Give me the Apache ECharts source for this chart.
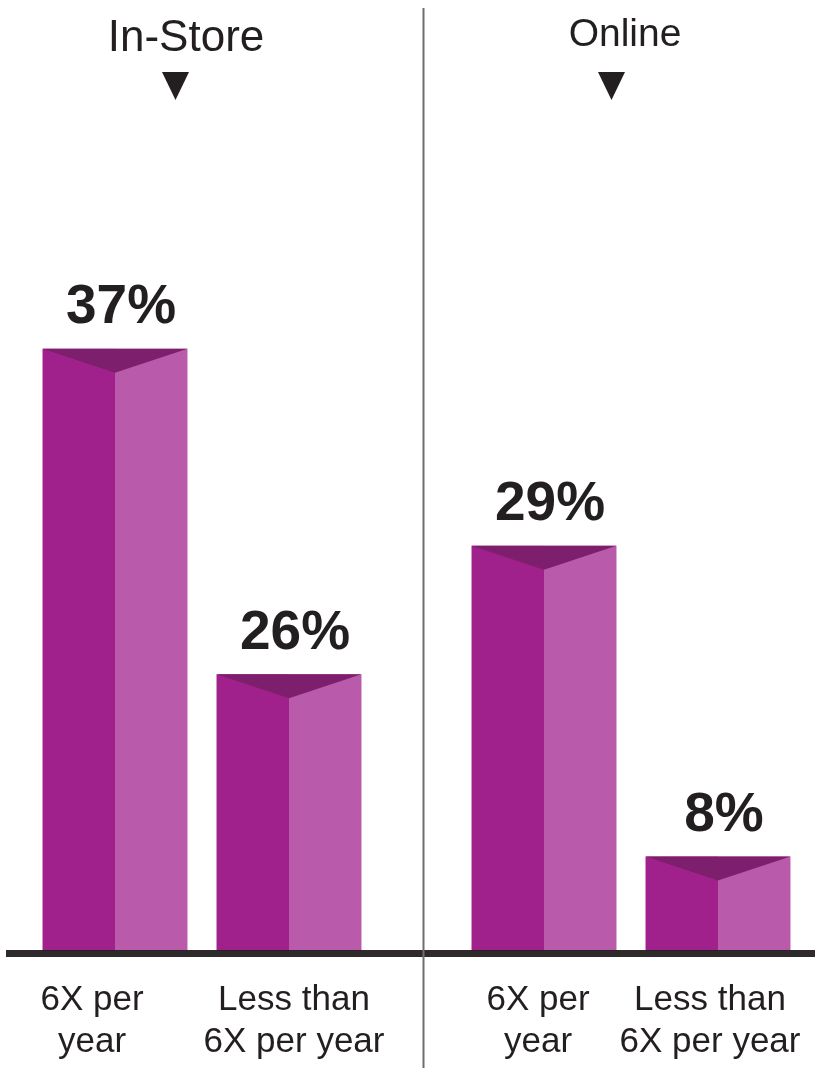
<!DOCTYPE html>
<html><head><meta charset="utf-8">
<script src="https://cdn.jsdelivr.net/npm/echarts@6/dist/echarts.min.js"></script>
<style>html,body{margin:0;padding:0;background:#fff}#c{width:822px;height:1087px}</style>
</head><body><div id="c"></div>
<script>
// ---- data ----
const groups = ['In-Store', 'Online'];
const categories = ['6X per\nyear', 'Less than\n6X per year'];
const inStoreValues = [37, 26];          // printed percentages
const onlineValues = [29, 8];
// bar heights as drawn in the source (the source bars are not to scale), in % units
const inStoreHeights = [37, 17.0];
const onlineHeights = [24.9, 5.8];

// ---- style ----
const DARK = '#A0218C', LIGHT = '#B95BAA', TOP = '#7E1F6E', INK = '#231F20';
const BAR_RATIO = 0.833, DEPTH = 24;
const labelShift = [[-23, 5], [-6, -8]];
const AX_FONT = '"Liberation Sans", Arial, sans-serif';

function renderBar(params, api) {
  const cat = api.value(0), h = api.value(1), v = api.value(2);
  const base = api.coord([cat, 0]);
  const top = api.coord([cat, h]);
  const w = api.size([1, 0])[0] * BAR_RATIO;
  const x0 = base[0] - w / 2, xm = base[0], x1 = base[0] + w / 2;
  const y0 = top[1], yb = base[1];
  return {
    type: 'group',
    children: [
      { type: 'rect', shape: { x: x0, y: y0, width: w / 2, height: yb - y0 }, style: { fill: DARK } },
      { type: 'rect', shape: { x: xm, y: y0, width: w / 2, height: yb - y0 }, style: { fill: LIGHT } },
      { type: 'polygon', shape: { points: [[x0, y0], [x1, y0], [xm, y0 + DEPTH]] }, style: { fill: TOP } },
      { type: 'text', x: xm + 6, y: y0 - 13,
        style: { text: v + '%', fill: INK, font: 'bold 55px "Liberation Sans", Arial, sans-serif',
                 align: 'center', verticalAlign: 'bottom' } }
    ]
  };
}

function axisData(gi) {
  return categories.map((c, i) => ({ value: c, textStyle: { padding: labelShift[gi][i] < 0 ? [0, -2 * labelShift[gi][i], 0, 0] : [0, 0, 0, 2 * labelShift[gi][i]] } }));
}

const xAxisBase = {
  type: 'category', axisLine: { show: false }, axisTick: { show: false },
  axisLabel: { color: INK, fontSize: 35, fontFamily: AX_FONT, lineHeight: 42, margin: 28, interval: 0 }
};
const yAxisBase = { type: 'value', min: 0, max: 40, show: false, splitLine: { show: false } };

const chart = echarts.init(document.getElementById('c'), null, { renderer: 'canvas' });
chart.setOption({
  backgroundColor: '#fff',
  animation: false,
  grid: [
    { left: 28, width: 348, top: 300, bottom: 136, outerBoundsMode: 'none', containLabel: false },
    { left: 457, width: 348, top: 300, bottom: 136, outerBoundsMode: 'none', containLabel: false }
  ],
  xAxis: [
    Object.assign({}, xAxisBase, { gridIndex: 0, data: axisData(0) }),
    Object.assign({}, xAxisBase, { gridIndex: 1, data: axisData(1) })
  ],
  yAxis: [
    Object.assign({}, yAxisBase, { gridIndex: 0 }),
    Object.assign({}, yAxisBase, { gridIndex: 1 })
  ],
  title: [
    { text: groups[0], left: 181, top: 12, textAlign: 'center',
      textStyle: { fontSize: 44, fontWeight: 'normal', color: INK, fontFamily: '"Liberation Sans", Arial, sans-serif' } },
    { text: groups[1], left: 620, top: 11, textAlign: 'center',
      textStyle: { fontSize: 39, fontWeight: 'normal', color: INK, fontFamily: '"Liberation Sans", Arial, sans-serif' } }
  ],
  series: [
    { type: 'custom', xAxisIndex: 0, yAxisIndex: 0, renderItem: renderBar,
      data: inStoreHeights.map((h, i) => [i, h, inStoreValues[i]]) },
    { type: 'custom', xAxisIndex: 1, yAxisIndex: 1, renderItem: renderBar,
      data: onlineHeights.map((h, i) => [i, h, onlineValues[i]]) }
  ],
  graphic: [
    { type: 'line', z: 100, shape: { x1: 6, y1: 953.5, x2: 815, y2: 953.5 }, style: { stroke: INK, lineWidth: 7, opacity: 0.95 } },
    { type: 'line', z: 100, shape: { x1: 423.5, y1: 8, x2: 423.5, y2: 1068 }, style: { stroke: '#6D6E71', lineWidth: 2 } },
    { type: 'polygon', z: 100, shape: { points: [[162, 72], [189, 72], [175.5, 100]] }, style: { fill: INK } },
    { type: 'polygon', z: 100, shape: { points: [[598, 72], [625, 72], [611.5, 100]] }, style: { fill: INK } }
  ]
});
</script>
</body></html>
